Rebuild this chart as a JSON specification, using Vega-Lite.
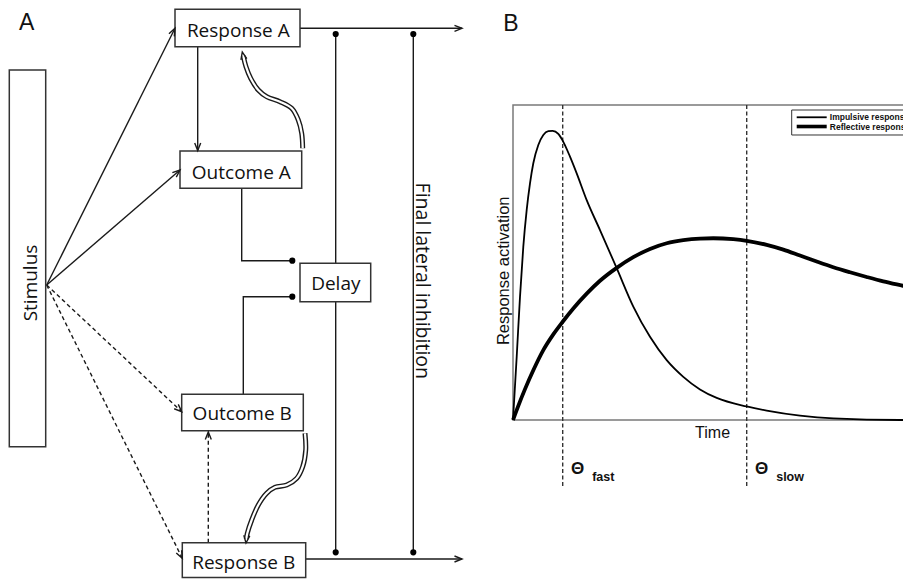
{
  "$schema": "https://vega.github.io/schema/vega-lite/v6.json",
  "width": 903,
  "height": 579,
  "padding": 0,
  "autosize": {"type": "none"},
  "background": "white",
  "config": {"view": {"stroke": null}},
  "datasets": {
    "boxes": [
      {"name": "Stimulus", "x1": 9.3, "x2": 45.7, "y1": 70, "y2": 446.7},
      {"name": "Response A", "x1": 175, "x2": 300, "y1": 9.3, "y2": 46.7},
      {"name": "Outcome A", "x1": 180, "x2": 301.7, "y1": 151, "y2": 188.3},
      {"name": "Delay", "x1": 300, "x2": 370.7, "y1": 263.3, "y2": 301.7},
      {"name": "Outcome B", "x1": 181.7, "x2": 303.3, "y1": 394.3, "y2": 430.7},
      {"name": "Response B", "x1": 182.3, "x2": 305.7, "y1": 542.7, "y2": 577.5}
    ],
    "labels": [
      {"name": "Response A", "x": 238.3, "y": 31},
      {"name": "Outcome A", "x": 241.3, "y": 172.7},
      {"name": "Delay", "x": 335.8, "y": 284.3},
      {"name": "Outcome B", "x": 242.2, "y": 414.3},
      {"name": "Response B", "x": 243.7, "y": 562.7}
    ],
    "links": [
      {"from": "Stimulus", "to": "Response A", "link": "strong", "x1": 46.7, "y1": 285, "x2": 175, "y2": 28.3},
      {"from": "Stimulus", "to": "Outcome A", "link": "strong", "x1": 46.7, "y1": 285, "x2": 180, "y2": 170},
      {"from": "Response A", "to": "Outcome A", "link": "strong", "x1": 197.7, "y1": 47, "x2": 197.7, "y2": 150.5},
      {"from": "Response A", "to": "Output", "link": "strong", "x1": 300, "y1": 28.3, "x2": 462, "y2": 28.3},
      {"from": "Response B", "to": "Output", "link": "strong", "x1": 305.7, "y1": 559, "x2": 462, "y2": 559},
      {"from": "Delay", "to": "Inhibition", "link": "strong", "x1": 335.7, "y1": 34, "x2": 335.7, "y2": 552.3},
      {"from": "Final lateral inhibition", "to": "Inhibition", "link": "strong", "x1": 413.3, "y1": 34, "x2": 413.3, "y2": 552.3},
      {"from": "Stimulus", "to": "Outcome B", "link": "weak", "x1": 46.7, "y1": 285, "x2": 181.7, "y2": 411.7},
      {"from": "Stimulus", "to": "Response B", "link": "weak", "x1": 46.7, "y1": 285, "x2": 182.3, "y2": 558.3},
      {"from": "Response B", "to": "Outcome B", "link": "weak", "x1": 208.3, "y1": 542.7, "x2": 208.3, "y2": 432}
    ],
    "heads": [
      {"x": 175, "y": 28.3, "dir": 26.7},
      {"x": 180, "y": 170, "dir": 49.2},
      {"x": 181.7, "y": 411.7, "dir": 133.2},
      {"x": 182.3, "y": 558.3, "dir": 153.6},
      {"x": 197.7, "y": 150.5, "dir": 180},
      {"x": 462, "y": 28.3, "dir": 90},
      {"x": 462, "y": 559, "dir": 90},
      {"x": 208.3, "y": 432, "dir": 0},
      {"x": 242.3, "y": 52, "dir": -12},
      {"x": 246, "y": 543, "dir": 186}
    ],
    "dots": [
      {"x": 292.3, "y": 260.7},
      {"x": 292.3, "y": 296.7},
      {"x": 335.7, "y": 34},
      {"x": 413.3, "y": 34},
      {"x": 335.7, "y": 552.3},
      {"x": 413.3, "y": 552.3}
    ],
    "elbows": [
      {"id": "OA", "ord": 1, "x": 241.7, "y": 188.3},
      {"id": "OA", "ord": 2, "x": 241.7, "y": 260.7},
      {"id": "OA", "ord": 3, "x": 292.3, "y": 260.7},
      {"id": "OB", "ord": 1, "x": 243.3, "y": 394.3},
      {"id": "OB", "ord": 2, "x": 243.3, "y": 296.7},
      {"id": "OB", "ord": 3, "x": 292.3, "y": 296.7}
    ],
    "curves": [
      {"id": "A", "ord": 1, "x": 302.7, "y": 148.3},
      {"id": "A", "ord": 2, "x": 301.7, "y": 133.3},
      {"id": "A", "ord": 3, "x": 298.3, "y": 120},
      {"id": "A", "ord": 4, "x": 291.7, "y": 108.3},
      {"id": "A", "ord": 5, "x": 280, "y": 101.7},
      {"id": "A", "ord": 6, "x": 266.7, "y": 96.7},
      {"id": "A", "ord": 7, "x": 258.3, "y": 90},
      {"id": "A", "ord": 8, "x": 250.7, "y": 78.3},
      {"id": "A", "ord": 9, "x": 246, "y": 66.7},
      {"id": "A", "ord": 10, "x": 243.3, "y": 56},
      {"id": "B", "ord": 1, "x": 305, "y": 433.3},
      {"id": "B", "ord": 2, "x": 305.7, "y": 450},
      {"id": "B", "ord": 3, "x": 302.7, "y": 466.7},
      {"id": "B", "ord": 4, "x": 296.7, "y": 478.3},
      {"id": "B", "ord": 5, "x": 286.7, "y": 485},
      {"id": "B", "ord": 6, "x": 275, "y": 487.3},
      {"id": "B", "ord": 7, "x": 266.7, "y": 493.3},
      {"id": "B", "ord": 8, "x": 258.3, "y": 505},
      {"id": "B", "ord": 9, "x": 251.7, "y": 520},
      {"id": "B", "ord": 10, "x": 247.3, "y": 533.3},
      {"id": "B", "ord": 11, "x": 246.3, "y": 539}
    ],
    "activation": [
      {"response": "Impulsive response", "t": 0, "a": 0},
      {"response": "Impulsive response", "t": 0.0925, "a": 0.201},
      {"response": "Impulsive response", "t": 0.175, "a": 0.391},
      {"response": "Impulsive response", "t": 0.2575, "a": 0.55},
      {"response": "Impulsive response", "t": 0.3425, "a": 0.667},
      {"response": "Impulsive response", "t": 0.425, "a": 0.751},
      {"response": "Impulsive response", "t": 0.5075, "a": 0.815},
      {"response": "Impulsive response", "t": 0.6325, "a": 0.873},
      {"response": "Impulsive response", "t": 0.7575, "a": 0.905},
      {"response": "Impulsive response", "t": 0.8825, "a": 0.917},
      {"response": "Impulsive response", "t": 0.9925, "a": 0.918},
      {"response": "Impulsive response", "t": 1.1325, "a": 0.908},
      {"response": "Impulsive response", "t": 1.2575, "a": 0.883},
      {"response": "Impulsive response", "t": 1.425, "a": 0.836},
      {"response": "Impulsive response", "t": 1.5925, "a": 0.783},
      {"response": "Impulsive response", "t": 1.8425, "a": 0.698},
      {"response": "Impulsive response", "t": 2.175, "a": 0.603},
      {"response": "Impulsive response", "t": 2.5925, "a": 0.482},
      {"response": "Impulsive response", "t": 3.0075, "a": 0.36},
      {"response": "Impulsive response", "t": 3.425, "a": 0.264},
      {"response": "Impulsive response", "t": 3.8425, "a": 0.19},
      {"response": "Impulsive response", "t": 4.2575, "a": 0.137},
      {"response": "Impulsive response", "t": 4.675, "a": 0.097},
      {"response": "Impulsive response", "t": 5.0925, "a": 0.07},
      {"response": "Impulsive response", "t": 5.8425, "a": 0.043},
      {"response": "Impulsive response", "t": 6.3425, "a": 0.03},
      {"response": "Impulsive response", "t": 7.175, "a": 0.014},
      {"response": "Impulsive response", "t": 8.0075, "a": 0.005},
      {"response": "Impulsive response", "t": 9.675, "a": 0.0},
      {"response": "Impulsive response", "t": 10.5, "a": 0.0},
      {"response": "Reflective response", "t": 0, "a": 0},
      {"response": "Reflective response", "t": 0.1325, "a": 0.045},
      {"response": "Reflective response", "t": 0.3, "a": 0.098},
      {"response": "Reflective response", "t": 0.5075, "a": 0.158},
      {"response": "Reflective response", "t": 0.7575, "a": 0.222},
      {"response": "Reflective response", "t": 1.0075, "a": 0.272},
      {"response": "Reflective response", "t": 1.2425, "a": 0.312},
      {"response": "Reflective response", "t": 1.5075, "a": 0.354},
      {"response": "Reflective response", "t": 1.8425, "a": 0.401},
      {"response": "Reflective response", "t": 2.175, "a": 0.442},
      {"response": "Reflective response", "t": 2.5925, "a": 0.483},
      {"response": "Reflective response", "t": 3.0075, "a": 0.517},
      {"response": "Reflective response", "t": 3.425, "a": 0.543},
      {"response": "Reflective response", "t": 3.8425, "a": 0.561},
      {"response": "Reflective response", "t": 4.2575, "a": 0.571},
      {"response": "Reflective response", "t": 4.675, "a": 0.576},
      {"response": "Reflective response", "t": 5.0075, "a": 0.577},
      {"response": "Reflective response", "t": 5.5075, "a": 0.574},
      {"response": "Reflective response", "t": 5.8425, "a": 0.569},
      {"response": "Reflective response", "t": 6.3425, "a": 0.556},
      {"response": "Reflective response", "t": 6.7575, "a": 0.541},
      {"response": "Reflective response", "t": 7.175, "a": 0.522},
      {"response": "Reflective response", "t": 7.5925, "a": 0.503},
      {"response": "Reflective response", "t": 8.0075, "a": 0.485},
      {"response": "Reflective response", "t": 8.425, "a": 0.469},
      {"response": "Reflective response", "t": 8.8425, "a": 0.454},
      {"response": "Reflective response", "t": 9.2575, "a": 0.44},
      {"response": "Reflective response", "t": 9.75, "a": 0.426},
      {"response": "Reflective response", "t": 10.5, "a": 0.405}
    ],
    "thresholds": [
      {"name": "fast", "t": 1.2425},
      {"name": "slow", "t": 5.8425}
    ]
  },
  "layer": [
    {
      "layer": [
        {
          "data": {"name": "links"},
          "transform": [{"filter": "datum.link === 'strong'"}],
          "mark": {"type": "rule", "stroke": "#1a1a1a", "strokeWidth": 1.4},
          "encoding": {
            "x": {"field": "x1", "type": "quantitative", "axis": null, "scale": {"domain": [0, 903], "nice": false, "zero": false}},
            "y": {"field": "y1", "type": "quantitative", "axis": null, "scale": {"domain": [0, 579], "reverse": true, "nice": false, "zero": false}},
            "x2": {"field": "x2"},
            "y2": {"field": "y2"}
          }
        },
        {
          "data": {"name": "links"},
          "transform": [{"filter": "datum.link === 'weak'"}],
          "mark": {"type": "rule", "stroke": "#1a1a1a", "strokeWidth": 1.4, "strokeDash": [4, 3]},
          "encoding": {
            "x": {"field": "x1", "type": "quantitative", "axis": null, "scale": {"domain": [0, 903], "nice": false, "zero": false}},
            "y": {"field": "y1", "type": "quantitative", "axis": null, "scale": {"domain": [0, 579], "reverse": true, "nice": false, "zero": false}},
            "x2": {"field": "x2"},
            "y2": {"field": "y2"}
          }
        },
        {
          "data": {"name": "elbows"},
          "mark": {"type": "line", "stroke": "#1a1a1a", "strokeWidth": 1.4},
          "encoding": {
            "x": {"field": "x", "type": "quantitative", "axis": null, "scale": {"domain": [0, 903], "nice": false, "zero": false}},
            "y": {"field": "y", "type": "quantitative", "axis": null, "scale": {"domain": [0, 579], "reverse": true, "nice": false, "zero": false}},
            "detail": {"field": "id"},
            "order": {"field": "ord"}
          }
        },
        {
          "data": {"name": "curves"},
          "mark": {"type": "line", "stroke": "#1a1a1a", "strokeWidth": 5, "interpolate": "catmull-rom"},
          "encoding": {
            "x": {"field": "x", "type": "quantitative", "axis": null, "scale": {"domain": [0, 903], "nice": false, "zero": false}},
            "y": {"field": "y", "type": "quantitative", "axis": null, "scale": {"domain": [0, 579], "reverse": true, "nice": false, "zero": false}},
            "detail": {"field": "id"},
            "order": {"field": "ord"}
          }
        },
        {
          "data": {"name": "curves"},
          "mark": {"type": "line", "stroke": "white", "strokeWidth": 2.2, "interpolate": "catmull-rom"},
          "encoding": {
            "x": {"field": "x", "type": "quantitative", "axis": null, "scale": {"domain": [0, 903], "nice": false, "zero": false}},
            "y": {"field": "y", "type": "quantitative", "axis": null, "scale": {"domain": [0, 579], "reverse": true, "nice": false, "zero": false}},
            "detail": {"field": "id"},
            "order": {"field": "ord"}
          }
        },
        {
          "data": {"name": "boxes"},
          "mark": {"type": "rect", "fill": "white", "stroke": "#333333", "strokeWidth": 1.5},
          "encoding": {
            "x": {"field": "x1", "type": "quantitative", "axis": null, "scale": {"domain": [0, 903], "nice": false, "zero": false}},
            "y": {"field": "y1", "type": "quantitative", "axis": null, "scale": {"domain": [0, 579], "reverse": true, "nice": false, "zero": false}},
            "x2": {"field": "x2"},
            "y2": {"field": "y2"}
          }
        },
        {
          "data": {"name": "labels"},
          "mark": {"type": "text", "font": "Open Sans", "fontSize": 19, "fill": "#111111", "align": "center", "baseline": "middle"},
          "encoding": {
            "x": {"field": "x", "type": "quantitative", "axis": null, "scale": {"domain": [0, 903], "nice": false, "zero": false}},
            "y": {"field": "y", "type": "quantitative", "axis": null, "scale": {"domain": [0, 579], "reverse": true, "nice": false, "zero": false}},
            "text": {"field": "name"}
          }
        },
        {
          "data": {"values": [{"name": "Stimulus", "x": 31, "y": 283}]},
          "mark": {"type": "text", "font": "Open Sans", "fontSize": 19, "fill": "#111111", "align": "center", "baseline": "middle", "angle": 270},
          "encoding": {
            "x": {"field": "x", "type": "quantitative", "axis": null, "scale": {"domain": [0, 903], "nice": false, "zero": false}},
            "y": {"field": "y", "type": "quantitative", "axis": null, "scale": {"domain": [0, 579], "reverse": true, "nice": false, "zero": false}},
            "text": {"field": "name"}
          }
        },
        {
          "data": {"values": [{"name": "Final lateral inhibition", "x": 421.8, "y": 280.8}]},
          "mark": {"type": "text", "font": "Open Sans", "fontSize": 19.5, "fill": "#111111", "align": "center", "baseline": "middle", "angle": 90},
          "encoding": {
            "x": {"field": "x", "type": "quantitative", "axis": null, "scale": {"domain": [0, 903], "nice": false, "zero": false}},
            "y": {"field": "y", "type": "quantitative", "axis": null, "scale": {"domain": [0, 579], "reverse": true, "nice": false, "zero": false}},
            "text": {"field": "name"}
          }
        },
        {
          "data": {"values": [{"name": "A", "x": 26.7, "y": 22.5}]},
          "mark": {"type": "text", "font": "Liberation Sans", "fontSize": 23, "fill": "#111111", "align": "center", "baseline": "middle"},
          "encoding": {
            "x": {"field": "x", "type": "quantitative", "axis": null, "scale": {"domain": [0, 903], "nice": false, "zero": false}},
            "y": {"field": "y", "type": "quantitative", "axis": null, "scale": {"domain": [0, 579], "reverse": true, "nice": false, "zero": false}},
            "text": {"field": "name"}
          }
        },
        {
          "data": {"name": "heads"},
          "mark": {"type": "point", "shape": "M-0.4,1L0,0L0.4,1", "filled": false, "stroke": "#1a1a1a", "strokeWidth": 1.4, "size": 225, "opacity": 1},
          "encoding": {
            "x": {"field": "x", "type": "quantitative", "axis": null, "scale": {"domain": [0, 903], "nice": false, "zero": false}},
            "y": {"field": "y", "type": "quantitative", "axis": null, "scale": {"domain": [0, 579], "reverse": true, "nice": false, "zero": false}},
            "angle": {"field": "dir", "type": "quantitative", "scale": null}
          }
        },
        {
          "data": {"name": "dots"},
          "mark": {"type": "point", "shape": "circle", "filled": true, "fill": "#000000", "size": 38, "opacity": 1},
          "encoding": {
            "x": {"field": "x", "type": "quantitative", "axis": null, "scale": {"domain": [0, 903], "nice": false, "zero": false}},
            "y": {"field": "y", "type": "quantitative", "axis": null, "scale": {"domain": [0, 579], "reverse": true, "nice": false, "zero": false}}
          }
        }
      ]
    },
    {
      "layer": [
        {
          "data": {"values": [{}]},
          "mark": {"type": "rect", "fill": null, "stroke": "#7a7a7a", "strokeWidth": 1.5},
          "encoding": {
            "x": {"datum": 0, "type": "quantitative", "axis": null, "scale": {"domain": [-12.825, 9.75], "nice": false, "zero": false}},
            "x2": {"datum": 10.5},
            "y": {"datum": 0, "type": "quantitative", "axis": null, "scale": {"domain": [-0.50476, 1.33333], "nice": false, "zero": false}},
            "y2": {"datum": 1}
          }
        },
        {
          "data": {"name": "thresholds"},
          "mark": {"type": "rule", "stroke": "#333333", "strokeWidth": 1.4, "strokeDash": [4, 2.5]},
          "encoding": {
            "x": {"field": "t", "type": "quantitative", "axis": null, "scale": {"domain": [-12.825, 9.75], "nice": false, "zero": false}},
            "y": {"datum": 1, "type": "quantitative", "axis": null, "scale": {"domain": [-0.50476, 1.33333], "nice": false, "zero": false}},
            "y2": {"datum": -0.213}
          }
        },
        {
          "data": {"name": "activation"},
          "mark": {"type": "line", "stroke": "#000000", "interpolate": "monotone"},
          "encoding": {
            "x": {"field": "t", "type": "quantitative", "axis": null, "scale": {"domain": [-12.825, 9.75], "nice": false, "zero": false}},
            "y": {"field": "a", "type": "quantitative", "axis": null, "scale": {"domain": [-0.50476, 1.33333], "nice": false, "zero": false}},
            "detail": {"field": "response"},
            "strokeWidth": {"field": "response", "type": "nominal", "legend": null, "scale": {"domain": ["Impulsive response", "Reflective response"], "range": [1.8, 3.8]}}
          }
        },
        {
          "data": {"values": [{}]},
          "mark": {"type": "rect", "fill": "white", "stroke": "#333333", "strokeWidth": 1},
          "encoding": {
            "x": {"datum": 6.9675, "type": "quantitative", "axis": null, "scale": {"domain": [-12.825, 9.75], "nice": false, "zero": false}},
            "x2": {"datum": 10.5},
            "y": {"datum": 0.9841, "type": "quantitative", "axis": null, "scale": {"domain": [-0.50476, 1.33333], "nice": false, "zero": false}},
            "y2": {"datum": 0.9048}
          }
        },
        {
          "data": {"values": [{}]},
          "mark": {"type": "rule", "stroke": "#000000", "strokeWidth": 1.8},
          "encoding": {
            "x": {"datum": 7.0925, "type": "quantitative", "axis": null, "scale": {"domain": [-12.825, 9.75], "nice": false, "zero": false}},
            "x2": {"datum": 7.8425},
            "y": {"datum": 0.961, "type": "quantitative", "axis": null, "scale": {"domain": [-0.50476, 1.33333], "nice": false, "zero": false}}
          }
        },
        {
          "data": {"values": [{}]},
          "mark": {"type": "rule", "stroke": "#000000", "strokeWidth": 3.6},
          "encoding": {
            "x": {"datum": 7.0925, "type": "quantitative", "axis": null, "scale": {"domain": [-12.825, 9.75], "nice": false, "zero": false}},
            "x2": {"datum": 7.8425},
            "y": {"datum": 0.9317, "type": "quantitative", "axis": null, "scale": {"domain": [-0.50476, 1.33333], "nice": false, "zero": false}}
          }
        },
        {
          "data": {"values": [{"label": "Impulsive response", "a": 0.961}, {"label": "Reflective response", "a": 0.9317}]},
          "mark": {"type": "text", "font": "Liberation Sans", "fontSize": 8.5, "fontWeight": "bold", "fill": "#111111", "align": "left", "baseline": "middle"},
          "encoding": {
            "x": {"datum": 7.92, "type": "quantitative", "axis": null, "scale": {"domain": [-12.825, 9.75], "nice": false, "zero": false}},
            "y": {"field": "a", "type": "quantitative", "axis": null, "scale": {"domain": [-0.50476, 1.33333], "nice": false, "zero": false}},
            "text": {"field": "label"}
          }
        },
        {
          "data": {"values": [{}]},
          "mark": {"type": "text", "text": "Response activation", "font": "Liberation Sans", "fontSize": 16.5, "fill": "#111111", "align": "center", "baseline": "middle", "angle": 270},
          "encoding": {
            "x": {"datum": -0.225, "type": "quantitative", "axis": null, "scale": {"domain": [-12.825, 9.75], "nice": false, "zero": false}},
            "y": {"datum": 0.4737, "type": "quantitative", "axis": null, "scale": {"domain": [-0.50476, 1.33333], "nice": false, "zero": false}}
          }
        },
        {
          "data": {"values": [{}]},
          "mark": {"type": "text", "text": "Time", "font": "Liberation Sans", "fontSize": 16, "fill": "#111111", "align": "center", "baseline": "middle"},
          "encoding": {
            "x": {"datum": 4.99, "type": "quantitative", "axis": null, "scale": {"domain": [-12.825, 9.75], "nice": false, "zero": false}},
            "y": {"datum": -0.0425, "type": "quantitative", "axis": null, "scale": {"domain": [-0.50476, 1.33333], "nice": false, "zero": false}}
          }
        },
        {
          "data": {"name": "thresholds"},
          "mark": {"type": "text", "text": "Θ", "font": "Liberation Sans", "fontSize": 17, "fontWeight": "bold", "fill": "#111111", "align": "center", "baseline": "alphabetic", "dx": 15},
          "encoding": {
            "x": {"field": "t", "type": "quantitative", "axis": null, "scale": {"domain": [-12.825, 9.75], "nice": false, "zero": false}},
            "y": {"datum": -0.1714, "type": "quantitative", "axis": null, "scale": {"domain": [-0.50476, 1.33333], "nice": false, "zero": false}}
          }
        },
        {
          "data": {"name": "thresholds"},
          "mark": {"type": "text", "font": "Liberation Sans", "fontSize": 12.5, "fontWeight": "bold", "fill": "#111111", "align": "left", "baseline": "alphabetic", "dx": 29.5},
          "encoding": {
            "x": {"field": "t", "type": "quantitative", "axis": null, "scale": {"domain": [-12.825, 9.75], "nice": false, "zero": false}},
            "y": {"datum": -0.195, "type": "quantitative", "axis": null, "scale": {"domain": [-0.50476, 1.33333], "nice": false, "zero": false}},
            "text": {"field": "name"}
          }
        },
        {
          "data": {"values": [{"name": "B"}]},
          "mark": {"type": "text", "font": "Liberation Sans", "fontSize": 23, "fill": "#111111", "align": "center", "baseline": "middle"},
          "encoding": {
            "x": {"datum": -0.055, "type": "quantitative", "axis": null, "scale": {"domain": [-12.825, 9.75], "nice": false, "zero": false}},
            "y": {"datum": 1.2587, "type": "quantitative", "axis": null, "scale": {"domain": [-0.50476, 1.33333], "nice": false, "zero": false}},
            "text": {"field": "name"}
          }
        }
      ]
    }
  ],
  "resolve": {"scale": {"x": "independent", "y": "independent"}}
}
